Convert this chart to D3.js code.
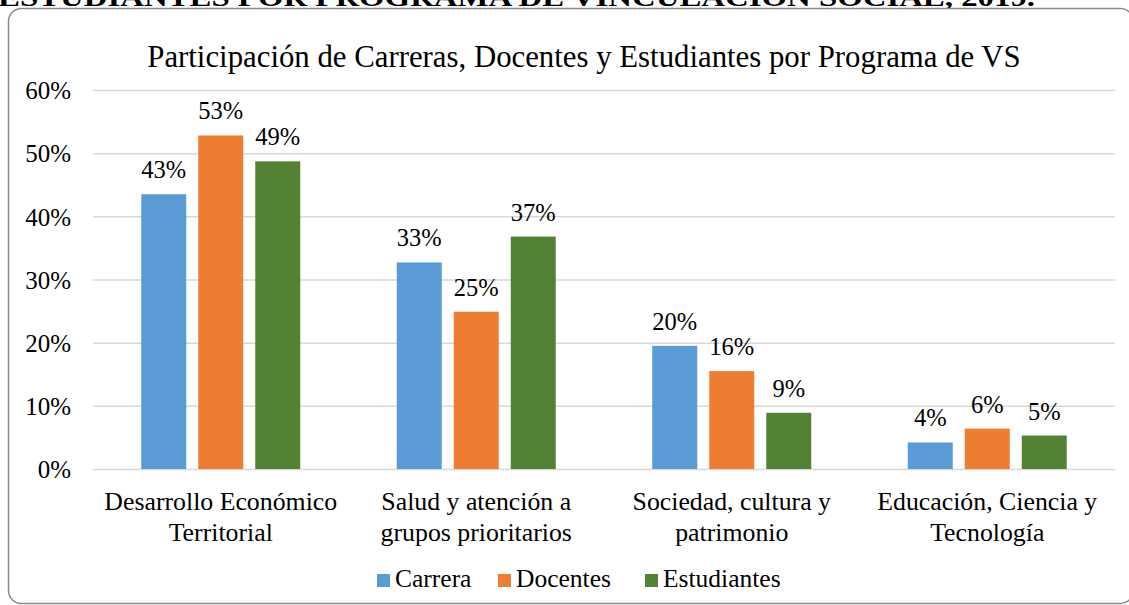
<!DOCTYPE html>
<html>
<head>
<meta charset="utf-8">
<script src="https://cdn.jsdelivr.net/npm/d3@7"></script>
<style>
  html, body { margin: 0; padding: 0; background: #fff; }
  svg { display: block; }
  text { font-family: "Liberation Serif", "Times New Roman", serif; fill: #000; }
</style>
</head>
<body>
<svg id="chart" width="1129" height="605"></svg>
<script>
const pageHeading = "ESTUDIANTES POR PROGRAMA DE VINCULACIÓN SOCIAL, 2019.";
const title = "Participación de Carreras, Docentes y Estudiantes por Programa de VS";
const categories = [
  "Desarrollo Económico\nTerritorial",
  "Salud y atención a\ngrupos prioritarios",
  "Sociedad, cultura y\npatrimonio",
  "Educación, Ciencia y\nTecnología"
];
const seriesNames = ["Carrera", "Docentes", "Estudiantes"];
const carrera = [0.435, 0.327, 0.195, 0.042];
const docentes = [0.528, 0.249, 0.155, 0.064];
const estudiantes = [0.487, 0.368, 0.089, 0.053];
const dataLabels = [
  ["43%", "33%", "20%", "4%"],
  ["53%", "25%", "16%", "6%"],
  ["49%", "37%", "9%", "5%"]
];
const yTicks = [0, 0.1, 0.2, 0.3, 0.4, 0.5, 0.6];
const colors = ["#5B9BD5", "#ED7D31", "#548235"];

const seriesValues = [carrera, docentes, estudiantes];

const svg = d3.select("#chart");

// cut-off document heading above the chart
svg.append("text")
  .attr("x", -2).attr("y", 6)
  .attr("font-size", 25).attr("font-weight", "bold")
  .attr("textLength", 1037).attr("lengthAdjust", "spacingAndGlyphs")
  .text(pageHeading);

// chart frame
svg.append("rect")
  .attr("x", 8.5).attr("y", 8.5)
  .attr("width", 1125).attr("height", 595)
  .attr("rx", 13).attr("ry", 13)
  .attr("fill", "#fff")
  .attr("stroke", "#8a8a8a").attr("stroke-width", 1.5);

// title
svg.append("text")
  .attr("x", 584).attr("y", 67)
  .attr("text-anchor", "middle")
  .attr("font-size", 30.8)
  .text(title);

const plotLeft = 93, plotRight = 1115, plotTop = 90, plotBottom = 469;

const y = d3.scaleLinear().domain([0, 0.6]).range([plotBottom, plotTop]);
const x0 = d3.scaleBand().domain(d3.range(categories.length)).range([plotLeft, plotRight]).paddingInner(0).paddingOuter(0);
const x1 = d3.scaleBand().domain(d3.range(seriesNames.length)).range([0, x0.bandwidth()])
  .paddingInner(12 / 57).paddingOuter(0.8465);

// gridlines
const yAxis = d3.axisLeft(y).tickValues(yTicks).tickFormat(d3.format(".0%"))
  .tickSize(-(plotRight - plotLeft)).tickPadding(22);
const gy = svg.append("g").attr("transform", `translate(${plotLeft},0)`).call(yAxis);
gy.select(".domain").remove();
gy.selectAll(".tick line").attr("stroke", "#d9d9d9").attr("stroke-width", 1.5);
gy.selectAll(".tick text")
  .attr("font-size", 25)
  .attr("font-family", "Liberation Serif, serif")
  .attr("fill", "#000")
  .attr("dy", "0.35em")
  .attr("x", -22);

// bars
const groups = svg.append("g").selectAll("g")
  .data(categories.map((c, i) => i))
  .join("g")
  .attr("transform", i => `translate(${x0(i)},0)`);

groups.selectAll("rect")
  .data(i => seriesValues.map((vals, s) => ({ s, v: vals[i], i })))
  .join("rect")
  .attr("x", d => x1(d.s))
  .attr("y", d => y(d.v))
  .attr("width", x1.bandwidth())
  .attr("height", d => y(0) - y(d.v))
  .attr("fill", d => colors[d.s]);

groups.selectAll("text.lbl")
  .data(i => seriesValues.map((vals, s) => ({ s, v: vals[i], i })))
  .join("text")
  .attr("class", "lbl")
  .attr("x", d => x1(d.s) + x1.bandwidth() / 2)
  .attr("y", d => y(d.v) - 16)
  .attr("text-anchor", "middle")
  .attr("font-size", 24.5)
  .text(d => dataLabels[d.s][d.i]);

// category labels
const cat = svg.append("g").selectAll("text")
  .data(categories.map((c, i) => ({ c, i })))
  .join("text")
  .attr("x", d => x0(d.i) + x0.bandwidth() / 2)
  .attr("y", 510)
  .attr("text-anchor", "middle")
  .attr("font-size", 25.8);
cat.selectAll("tspan")
  .data(d => d.c.split("\n").map(t => ({ t, x: x0(d.i) + x0.bandwidth() / 2 })))
  .join("tspan")
  .attr("x", d => d.x)
  .attr("dy", (d, k) => k === 0 ? 0 : 31)
  .text(d => d.t);

// legend
const legendX = [377, 498, 645];
const leg = svg.append("g").selectAll("g")
  .data(seriesNames.map((n, s) => ({ n, s })))
  .join("g")
  .attr("transform", d => `translate(${legendX[d.s]},574)`);
leg.append("rect").attr("width", 13).attr("height", 13).attr("fill", d => colors[d.s]);
leg.append("text").attr("x", 18).attr("y", 13).attr("font-size", 25.5).text(d => d.n);
</script>
</body>
</html>
